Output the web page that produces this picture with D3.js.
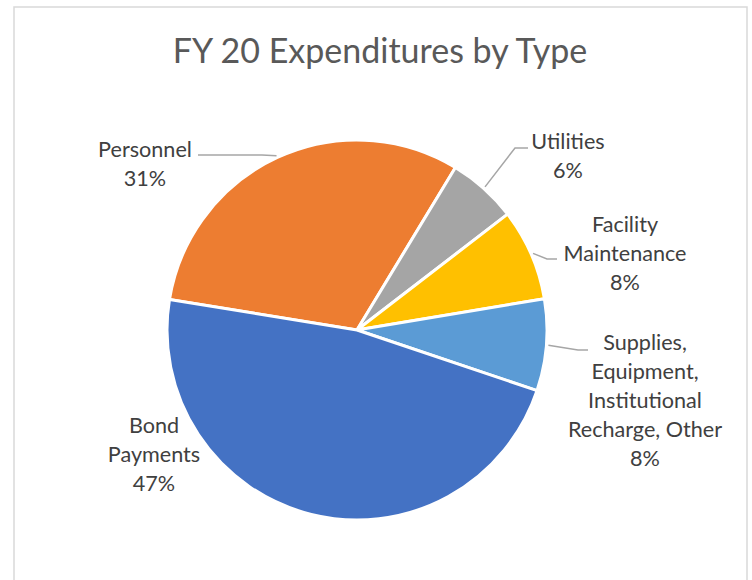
<!DOCTYPE html>
<html>
<head>
<meta charset="utf-8">
<script src="https://cdn.jsdelivr.net/npm/d3@7"></script>
<style>
  html, body { margin: 0; padding: 0; background: #fff; }
  svg { display: block; }
  text { font-family: Lato, "Open Sans", sans-serif; }
</style>
</head>
<body>
<svg id="chart" width="752" height="580"></svg>
<script>
// ---- Data ----
const title = "FY 20 Expenditures by Type";
const categories = ["Personnel", "Utilities", "Facility Maintenance",
  "Supplies, Equipment, Institutional Recharge, Other", "Bond Payments"];
const values = [31.1, 5.9, 7.8, 7.8, 47.4];
const labelLines = [
  ["Personnel"],
  ["Utilities"],
  ["Facility", "Maintenance"],
  ["Supplies,", "Equipment,", "Institutional", "Recharge, Other"],
  ["Bond", "Payments"]
];
const colors = ["#ED7D31", "#A5A5A5", "#FFC000", "#5B9BD5", "#4472C4"];

// ---- Layout (positions, not data) ----
const W = 752, H = 580;
const cx = 357, cy = 330, R = 190;
const startDeg = -80.76;
const lineH = 29;
// label centre x, first baseline y, leader: [startX, y, elbowX] or null
const labelLayout = [
  { x: 145, y: 157, leader: [198, 155, 262] },
  { x: 568, y: 149, leader: [528, 148, 515] },
  { x: 625, y: 232, leader: [557, 259, 547] },
  { x: 645, y: 350, leader: [588, 350, 578] },
  { x: 154, y: 433, leader: null }
];

const svg = d3.select("#chart");

// frame
svg.append("rect")
  .attr("x", 14).attr("y", 7)
  .attr("width", 733).attr("height", 600)
  .attr("fill", "#fff")
  .attr("stroke", "#d9d9d9").attr("stroke-width", 1.5);

// title
svg.append("text")
  .attr("x", 380).attr("y", 63)
  .attr("text-anchor", "middle")
  .attr("font-size", 34)
  .attr("fill", "#595959")
  .text(title);

const data = categories.map((c, i) => ({ name: c, value: values[i], i }));
const total = d3.sum(values);
const pct = d3.format(".0%");

const pie = d3.pie()
  .sort(null)
  .value(d => d.value)
  .startAngle(startDeg * Math.PI / 180)
  .endAngle(startDeg * Math.PI / 180 + 2 * Math.PI);

const arcs = pie(data);
const arc = d3.arc().innerRadius(0).outerRadius(R);

const g = svg.append("g").attr("transform", `translate(${cx},${cy})`);
g.selectAll("path")
  .data(arcs)
  .join("path")
  .attr("d", arc)
  .attr("fill", d => colors[d.data.i])
  .attr("stroke", "#fff")
  .attr("stroke-width", 3)
  .attr("stroke-linejoin", "round");

// leader lines
arcs.forEach((a, k) => {
  const L = labelLayout[k];
  if (!L.leader) return;
  const mid = (a.startAngle + a.endAngle) / 2;
  const ex = cx + (R + 2) * Math.sin(mid);
  const ey = cy - (R + 2) * Math.cos(mid);
  const [sx, sy, bx] = L.leader;
  svg.append("polyline")
    .attr("points", `${sx},${sy} ${bx},${sy} ${ex},${ey}`)
    .attr("fill", "none")
    .attr("stroke", "#a6a6a6")
    .attr("stroke-width", 1.5);
});

// labels
arcs.forEach((a, k) => {
  const L = labelLayout[k];
  const lines = labelLines[k].concat([pct(a.data.value / total)]);
  const t = svg.append("text")
    .attr("text-anchor", "middle")
    .attr("font-size", 21.6)
    .attr("fill", "#404040");
  lines.forEach((ln, j) => {
    t.append("tspan")
      .attr("x", L.x)
      .attr("y", L.y + j * lineH)
      .text(ln);
  });
});
</script>
</body>
</html>
